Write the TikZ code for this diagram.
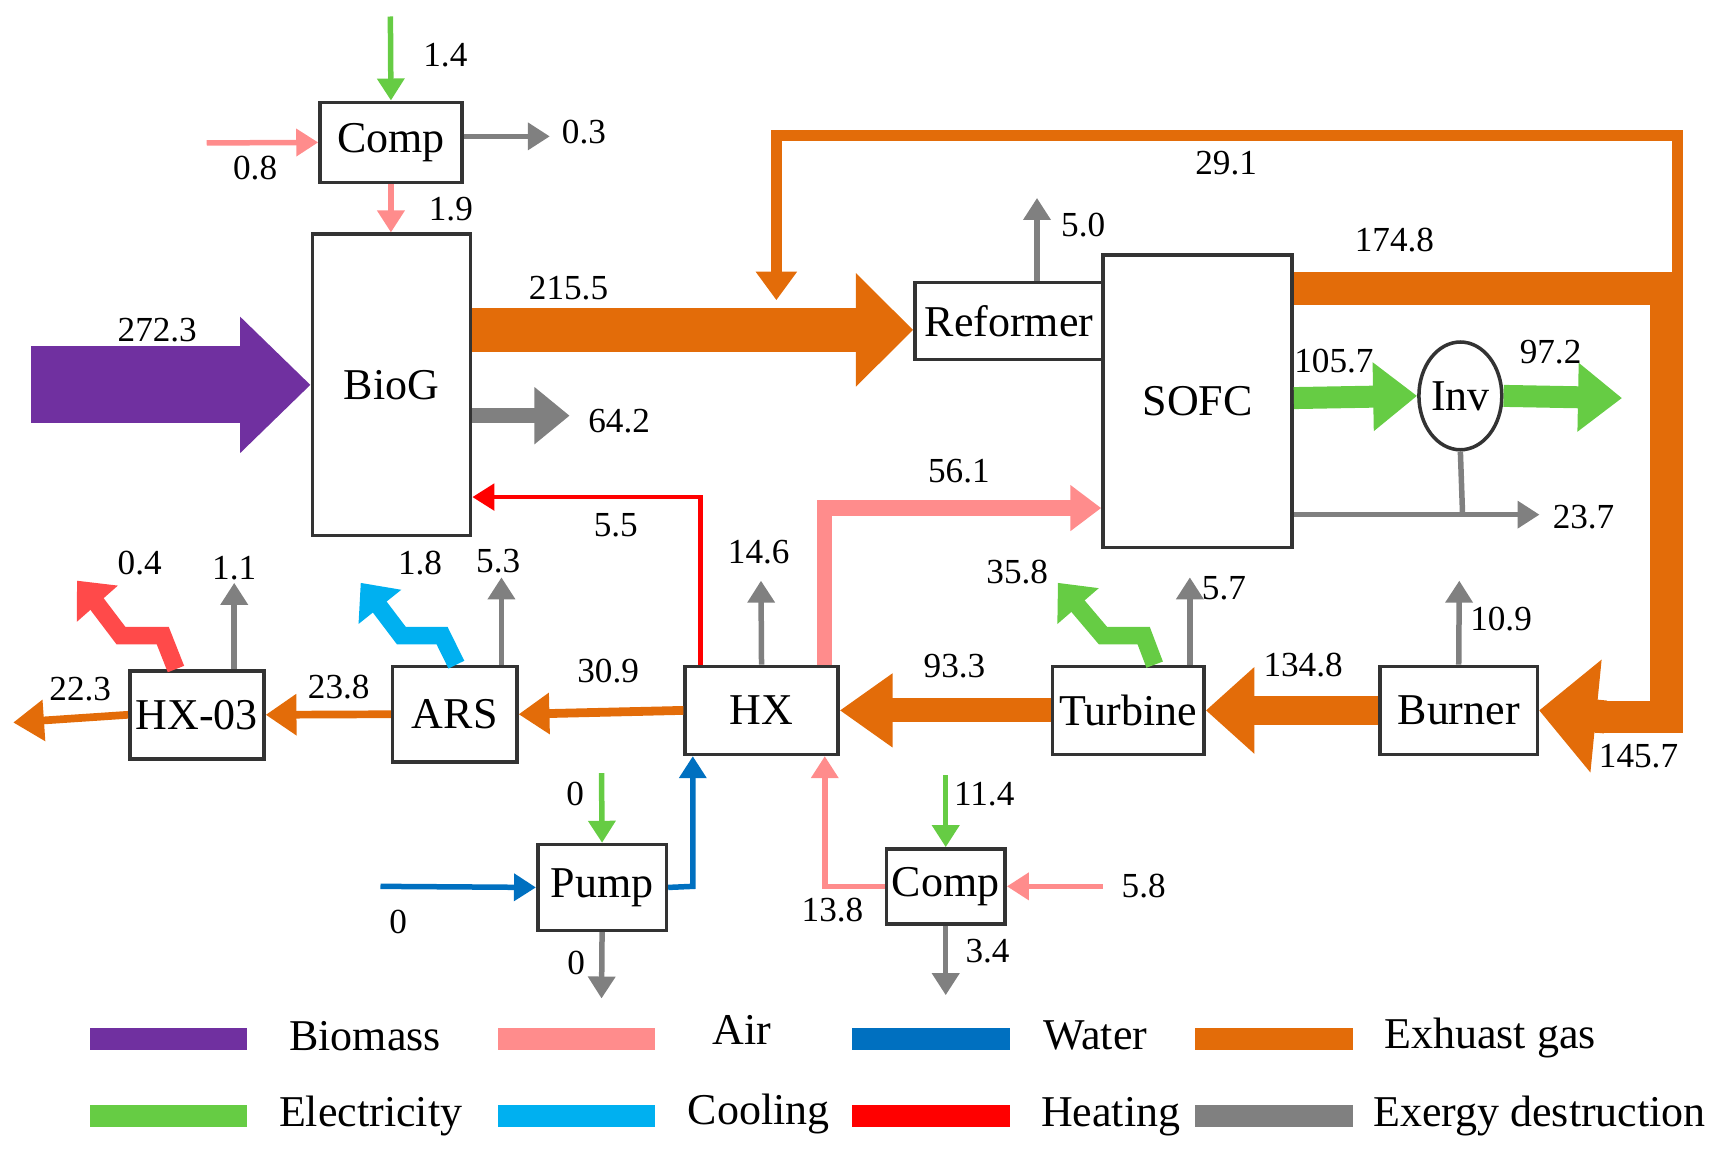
\documentclass[tikz,border=0pt]{standalone}
\usepackage{fontspec}
\setmainfont{LiberationSerif}[Extension=.ttf,UprightFont=*-Regular,BoldFont=*-Bold]
\usetikzlibrary{arrows.meta,shapes.geometric}
\definecolor{bm}{HTML}{7030A0}
\definecolor{ex}{HTML}{E36C09}
\definecolor{air}{HTML}{FF8C8C}
\definecolor{gr}{HTML}{808080}
\definecolor{el}{HTML}{66CC44}
\definecolor{wa}{HTML}{0070C0}
\definecolor{he}{HTML}{FF0000}
\definecolor{co}{HTML}{00B0F0}
\definecolor{hs}{HTML}{FF4A4A}
\begin{document}
\begin{tikzpicture}[x=0.5pt,y=-0.5pt,
 box/.style={draw=black!80,line width=1.6pt,fill=white,inner sep=0pt,font=\rmfamily\fontsize{20}{22}\selectfont},
 lab/.style={font=\rmfamily\fontsize{16}{18}\selectfont,inner sep=1pt},
 leg/.style={font=\rmfamily\fontsize{20}{22}\selectfont,inner sep=0pt},
 th/.style={line width=2.5pt,-{Triangle[length=10pt,width=12pt]}},
 fat/.style args={#1/#2/#3}{line width=#1pt,-{Triangle[length=#2pt,width=#3pt]}},
]
\useasboundingbox (0,0) rectangle (1565,1050);
% boxes
\node[box,minimum width=64.5pt,minimum height=36.5pt] (comp1) at (355.5,129.5) {Comp};
\node[box,minimum width=72pt,minimum height=137pt] (biog) at (356,350) {BioG};
\node[box,minimum width=85.5pt,minimum height=35pt] (ref) at (917.5,292) {Reformer};
\node[box,minimum width=86pt,minimum height=133pt] (sofc) at (1089,365) {SOFC};
\node[draw=black!80,line width=1.6pt,ellipse,minimum width=29pt,minimum height=49pt,inner sep=0pt,font=\rmfamily\fontsize{20}{22}\selectfont] (inv) at (1328,360) {Inv};
\node[box,minimum width=69.5pt,minimum height=40pt] (hx) at (692.5,646) {HX};
\node[box,minimum width=69pt,minimum height=40pt] (tur) at (1026,646) {Turbine};
\node[box,minimum width=71.5pt,minimum height=40pt] (bur) at (1326.5,646) {Burner};
\node[box,minimum width=56.5pt,minimum height=43.5pt] (ars) at (413.5,649.5) {ARS};
\node[box,minimum width=61pt,minimum height=40pt] (hx3) at (179,650) {HX-03};
\node[box,minimum width=58.5pt,minimum height=39pt] (pump) at (547.5,807) {Pump};
\node[box,minimum width=54pt,minimum height=34pt] (comp2) at (860,806) {Comp};
% top comp
\draw[th,el] (355,15) -- (comp1.north);
\node[lab] at (405,50) {1.4};
\draw[th,air] (188,130) -- (comp1.west);
\node[lab] at (232,153) {0.8};
\draw[th,gr] (comp1.east|-0,124) -- (500,124);
\node[lab] at (531,120) {0.3};
\draw[th,air] (comp1.south) -- (biog.north-|comp1.south);
\node[lab] at (410,190) {1.9};
% biomass
\draw[fat=35/32/60,bm] (28,350) -- (biog.west);
\node[lab] at (143,300) {272.3};
\draw[fat=20/26/50,ex] (biog.east|-0,300) -- (ref.west|-0,300);
\node[lab] at (517,262) {215.5};
\draw[fat=7/16/25,gr] (biog.east|-0,378) -- (518,378);
\node[lab] at (563,383) {64.2};
\draw[th,gr] (ref.north-|943,0) -- (943,180);
\node[lab] at (985,205) {5.0};
% SOFC exhaust
\draw[line width=5pt,ex,-{Triangle[length=13pt,width=18pt]}] (1525,250) -- (1525,123) -- (706,123) -- (706,273);
\node[lab] at (1115,148) {29.1};
\draw[line width=15pt,ex,line join=miter] (sofc.east|-0,262) -- (1515,262) -- (1515,652) -- (1450,652);
\draw[fat=15/26/50,ex] (1460,652) -- (bur.east);
\node[lab] at (1268,218) {174.8};
\node[lab] at (1490,688) {145.7};
% electricity
\draw[fat=10/20/30,el] (sofc.east|-0,362) -- (inv.west);
\node[lab] at (1213,328) {105.7};
\draw[fat=10/20/30,el] (inv.east) -- (1475,362);
\node[lab] at (1410,320) {97.2};
\draw[line width=2.5pt,gr] (inv.south) -- (1330,468);
\draw[th,gr] (sofc.east|-0,468) -- (1400,468);
\node[lab] at (1440,470) {23.7};
% air to SOFC
\draw[line width=7pt,air,-{Triangle[length=14pt,width=20pt]}] (hx.north-|750,0) -- (750,462) -- (sofc.west|-0,462);
\node[lab] at (872,428) {56.1};
\draw[line width=2pt,he,-{Triangle[length=10pt,width=12pt]}] (hx.north-|637,0) -- (637,452) -- (biog.east|-0,452);
\node[lab] at (560,478) {5.5};
\draw[th,gr] (hx.north) -- (692,528);
\node[lab] at (690,502) {14.6};
% bottom chain
\draw[fat=13/22/38,ex] (bur.west) -- (tur.east);
\node[lab] at (1185,605) {134.8};
\draw[th,gr] (bur.north) -- (1327,528);
\node[lab] at (1365,563) {10.9};
\draw[fat=11/24/32,ex] (tur.west) -- (hx.east);
\node[lab] at (868,606) {93.3};
\draw[line width=8pt,el,line join=miter,-{Triangle[length=14pt,width=24pt]}] (tur.north-|1050,0) -- (1040,578) -- (1003,578) -- (975,545) -- (962,530);
\node[lab] at (925,520) {35.8};
\draw[th,gr] (tur.north-|1082,0) -- (1082,525);
\node[lab] at (1113,535) {5.7};
\draw[fat=4/14/18,ex] (hx.west) -- (ars.east);
\node[lab] at (553,610) {30.9};
\draw[line width=8pt,co,line join=miter,-{Triangle[length=14pt,width=24pt]}] (ars.north-|415,0) -- (402,578) -- (365,578) -- (340,545) -- (328,530);
\node[lab] at (382,512) {1.8};
\draw[th,gr] (ars.north-|456,0) -- (456,525);
\node[lab] at (453,510) {5.3};
\draw[fat=3.5/14/18,ex] (ars.west) -- (hx3.east);
\node[lab] at (308,625) {23.8};
\draw[line width=8pt,hs,line join=miter,-{Triangle[length=14pt,width=24pt]}] (hx3.north-|160,0) -- (148,578) -- (110,578) -- (85,545) -- (70,528);
\node[lab] at (127,512) {0.4};
\draw[th,gr] (hx3.north-|213,0) -- (213,530);
\node[lab] at (213,517) {1.1};
\draw[fat=3.5/14/18,ex] (hx3.west) -- (12,657);
\node[lab] at (73,627) {22.3};
% pump
\draw[th,el] (547,703) -- (pump.north);
\node[lab] at (523,722) {0};
\draw[th,wa] (346,806) -- (pump.west);
\node[lab] at (362,838) {0};
\draw[th,wa] (pump.east) -- (630,806) -- (hx.south-|630,0);
\draw[th,gr] (pump.south) -- (547,908);
\node[lab] at (524,876) {0};
% comp2
\draw[th,el] (860,705) -- (comp2.north);
\node[lab] at (895,722) {11.4};
\draw[th,air] (1003,806) -- (comp2.east);
\node[lab] at (1040,806) {5.8};
\draw[th,air] (comp2.west) -- (750,806) -- (hx.south-|750,0);
\node[lab] at (757,828) {13.8};
\draw[th,gr] (comp2.south) -- (860,905);
\node[lab] at (898,865) {3.4};
% legend
\foreach \c/\x/\y in {bm/82/945,air/453/945,wa/775/945,ex/1087/945,el/82/1015,co/453/1015,he/775/1015,gr/1087/1015}
  \fill[\c] (\x,\y-10) rectangle (\x+143,\y+10);
\node[leg] at (332,942) {Biomass};
\node[leg] at (675,937) {Air};
\node[leg] at (996,942) {Water};
\node[leg] at (1355,944) {Exhuast gas};
\node[leg] at (337,1015) {Electricity};
\node[leg] at (690,1013) {Cooling};
\node[leg] at (1010,1015) {Heating};
\node[leg] at (1400,1015) {Exergy destruction};
\end{tikzpicture}
\end{document}
